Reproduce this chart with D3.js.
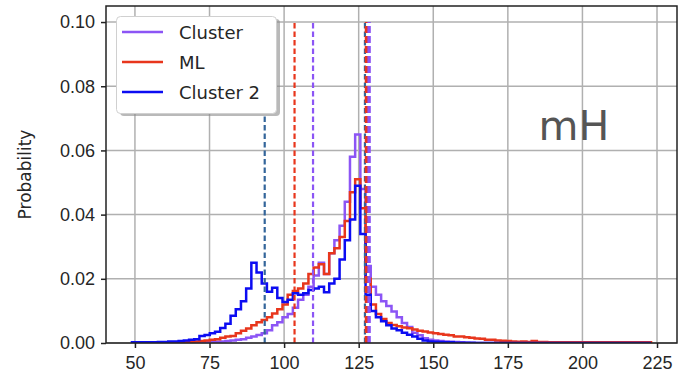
<!DOCTYPE html>
<html lang="en">
<head>
    <meta charset="UTF-8">
    <title>mH probability histogram</title>
    <style>
        body { margin: 0; padding: 0; background: #fff; }
        svg { display: block; font-family: "DejaVu Sans", sans-serif; }
        .grid line { stroke: #b0b0b0; stroke-width: 1.5; }
        .axis path { display: none; }
        .axis line { stroke: #222; stroke-width: 1.5; }
        .axis text { fill: #262626; font-size: 18px; }
    </style>
</head>
<body>
    <div id="chart"></div>

    <script src="https://cdnjs.cloudflare.com/ajax/libs/d3/7.8.5/d3.min.js"></script>
    <script>
        // bins: 100 bins from 49 to 223
        const binStart = 49;
        const binEnd = 223;

        const clusterValues = [
            0, 0, 0, 0, 0, 0, 0, 0, 0, 0,
            0, 0, 0.0001, 0.0001, 0.0002, 0.0003, 0.0004, 0.0005, 0.0006, 0.0008,
            0.0010, 0.0012, 0.0016, 0.0020, 0.0025, 0.0030, 0.0040, 0.0055, 0.0065, 0.0080,
            0.0090, 0.0110, 0.0135, 0.0150, 0.0175, 0.0210, 0.0250, 0.0215, 0.0280, 0.0320,
            0.0365, 0.0440, 0.0580, 0.0650, 0.0480, 0.0240, 0.0175, 0.0150, 0.0130, 0.0115,
            0.0098, 0.0080, 0.0062, 0.0050, 0.0032, 0.0024, 0.0015, 0.0010, 0.0008, 0.0006,
            0.0005, 0.0004, 0.0003, 0.0002, 0.0001, 0, 0, 0, 0, 0,
            0, 0, 0, 0, 0, 0, 0, 0, 0, 0,
            0, 0, 0, 0, 0, 0, 0, 0, 0, 0,
            0, 0, 0, 0, 0, 0, 0, 0, 0, 0
        ];

        const mlValues = [
            0, 0, 0, 0, 0, 0, 0, 0, 0, 0.0001,
            0.0002, 0.0003, 0.0005, 0.0006, 0.0008, 0.0010, 0.0012, 0.0016, 0.0020, 0.0022,
            0.0030, 0.0038, 0.0045, 0.0055, 0.0065, 0.0072, 0.0080, 0.0092, 0.0105, 0.0120,
            0.0150, 0.0162, 0.0170, 0.0185, 0.0215, 0.0235, 0.0245, 0.0215, 0.0280, 0.0295,
            0.0330, 0.0380, 0.0470, 0.0510, 0.0420, 0.0200, 0.0120, 0.0090, 0.0075, 0.0062,
            0.0056, 0.0052, 0.0048, 0.0046, 0.0042, 0.0038, 0.0036, 0.0033, 0.0030, 0.0028,
            0.0026, 0.0024, 0.0020, 0.0020, 0.0018, 0.0016, 0.0014, 0.0013, 0.0010, 0.0010,
            0.0008, 0.0007, 0.0006, 0.0005, 0.0004, 0.0005, 0.0003, 0.0006, 0.0003, 0.0003,
            0.0002, 0.0002, 0.0002, 0.0002, 0.0002, 0.0002, 0.0002, 0.0002, 0.0002, 0.0002,
            0.0002, 0.0002, 0.0002, 0.0002, 0.0002, 0.0002, 0.0002, 0.0002, 0.0002, 0.0002
        ];

        const cluster2Values = [
            0.0002, 0.0002, 0.0002, 0.0002, 0.0002, 0.0003, 0.0003, 0.0005, 0.0005, 0.0006,
            0.0008, 0.0010, 0.0012, 0.0022, 0.0025, 0.0030, 0.0035, 0.0047, 0.0060, 0.0085,
            0.0105, 0.0130, 0.0170, 0.0250, 0.0220, 0.0185, 0.0160, 0.0172, 0.0140, 0.0128,
            0.0135, 0.0155, 0.0150, 0.0155, 0.0165, 0.0170, 0.0175, 0.0158, 0.0185, 0.0200,
            0.0260, 0.0320, 0.0385, 0.0490, 0.0340, 0.0150, 0.0100, 0.0080, 0.0068, 0.0055,
            0.0045, 0.0040, 0.0032, 0.0026, 0.0020, 0.0013, 0.0008, 0.0005, 0.0004, 0.0003,
            0.0002, 0.0002, 0.0001, 0.0001, 0.0001, 0.0001, 0, 0, 0, 0,
            0, 0, 0, 0, 0, 0, 0, 0, 0, 0,
            0, 0, 0, 0, 0, 0, 0, 0, 0, 0,
            0, 0, 0, 0, 0, 0, 0, 0, 0, 0
        ];

        // dashed reference lines
        const vlineValues = [93.5, 103.5, 109.7, 127.1, 127.6, 128.5];
        const vlineSeries = ["Cluster 2", "ML", "Cluster", "Cluster 2", "ML", "Cluster"];
        const vlineThick = [false, false, false, false, true, true];

        const xTicks = [50, 75, 100, 125, 150, 175, 200, 225];
        const yTicks = [0, 0.02, 0.04, 0.06, 0.08, 0.10];

        const seriesNames = ["Cluster", "ML", "Cluster 2"];
        const colors = { "Cluster": "#8c55f5", "ML": "#e8361c", "Cluster 2": "#0c0cf2" };
        const vlineColors = { "Cluster": "#8c55f5", "ML": "#e8361c", "Cluster 2": "#33659a" };
        const seriesValues = { "Cluster": clusterValues, "ML": mlValues, "Cluster 2": cluster2Values };

        const width = 700;
        const height = 377;
        const plot = { left: 106, right: 677, top: 6, bottom: 343 };

        const svg = d3.select("#chart")
            .append("svg")
            .attr("width", width)
            .attr("height", height);

        const x = d3.scaleLinear().domain([40.3, 231.7]).range([plot.left, plot.right]);
        const y = d3.scaleLinear().domain([0, 0.105]).range([plot.bottom, plot.top]);

        svg.append("defs").append("clipPath").attr("id", "clip")
            .append("rect")
            .attr("x", plot.left).attr("y", plot.top)
            .attr("width", plot.right - plot.left).attr("height", plot.bottom - plot.top);

        // grid
        const grid = svg.append("g").attr("class", "grid");
        grid.selectAll(".gx").data(xTicks).enter().append("line")
            .attr("x1", d => x(d)).attr("x2", d => x(d))
            .attr("y1", plot.top).attr("y2", plot.bottom);
        grid.selectAll(".gy").data(yTicks).enter().append("line")
            .attr("x1", plot.left).attr("x2", plot.right)
            .attr("y1", d => y(d)).attr("y2", d => y(d));

        const body = svg.append("g").attr("clip-path", "url(#clip)");

        // step histograms
        const nBins = clusterValues.length;
        const binW = (binEnd - binStart) / nBins;
        function stepPoints(vals) {
            const pts = [[binStart, 0]];
            vals.forEach((v, i) => {
                pts.push([binStart + i * binW, v]);
                pts.push([binStart + (i + 1) * binW, v]);
            });
            pts.push([binEnd, 0]);
            return pts;
        }
        const line = d3.line().x(d => x(d[0])).y(d => y(d[1]));

        seriesNames.forEach(name => {
            body.append("path")
                .attr("d", line(stepPoints(seriesValues[name])))
                .attr("fill", "none")
                .attr("stroke", colors[name])
                .attr("stroke-width", 2.5)
                .attr("stroke-linejoin", "miter");
        });

        // vertical dashed lines
        vlineValues.forEach((v, i) => {
            body.append("line")
                .attr("x1", x(v)).attr("x2", x(v))
                .attr("y1", y(0)).attr("y2", y(0.1))
                .attr("stroke", vlineColors[vlineSeries[i]])
                .attr("stroke-width", vlineThick[i] ? 3.4 : 2.2)
                .attr("stroke-dasharray", vlineThick[i] ? "7,3" : "5.5,3");
        });

        // axes
        const xAxis = svg.append("g").attr("class", "axis")
            .attr("transform", `translate(0,${plot.bottom})`)
            .call(d3.axisBottom(x).tickValues(xTicks).tickFormat(d3.format("d")).tickSize(5).tickPadding(6));
        const yAxis = svg.append("g").attr("class", "axis")
            .attr("transform", `translate(${plot.left},0)`)
            .call(d3.axisLeft(y).tickValues(yTicks).tickFormat(d3.format(".2f")).tickSize(5).tickPadding(6));
        xAxis.selectAll("text").attr("dy", "0.85em");

        // spines
        svg.append("rect")
            .attr("x", plot.left).attr("y", plot.top)
            .attr("width", plot.right - plot.left).attr("height", plot.bottom - plot.top)
            .attr("fill", "none").attr("stroke", "#222").attr("stroke-width", 1.5);

        svg.append("text")
            .attr("transform", `translate(31,${(plot.top + plot.bottom) / 2}) rotate(-90)`)
            .attr("text-anchor", "middle")
            .attr("font-size", 17)
            .attr("fill", "#262626")
            .text("Probability");

        svg.append("text")
            .attr("x", 574).attr("y", 140)
            .attr("text-anchor", "middle")
            .attr("font-size", 41)
            .attr("fill", "#555")
            .text("mH");

        // legend
        const lg = svg.append("g");
        lg.append("rect")
            .attr("x", 120).attr("y", 19).attr("width", 160).attr("height", 97)
            .attr("rx", 4).attr("fill", "#8a8a8a").attr("opacity", 0.6);
        lg.append("rect")
            .attr("x", 116.5).attr("y", 16.5).attr("width", 160).attr("height", 97)
            .attr("rx", 4).attr("fill", "#fff").attr("stroke", "#d0d0d0").attr("stroke-width", 1);
        seriesNames.forEach((name, i) => {
            const ly = 32 + i * 30;
            lg.append("line")
                .attr("x1", 122).attr("x2", 163).attr("y1", ly).attr("y2", ly)
                .attr("stroke", colors[name]).attr("stroke-width", 2.5);
            lg.append("text")
                .attr("x", 179).attr("y", ly + 6.5)
                .attr("font-size", 18).attr("fill", "#262626")
                .text(name);
        });
    </script>
</body>
</html>
